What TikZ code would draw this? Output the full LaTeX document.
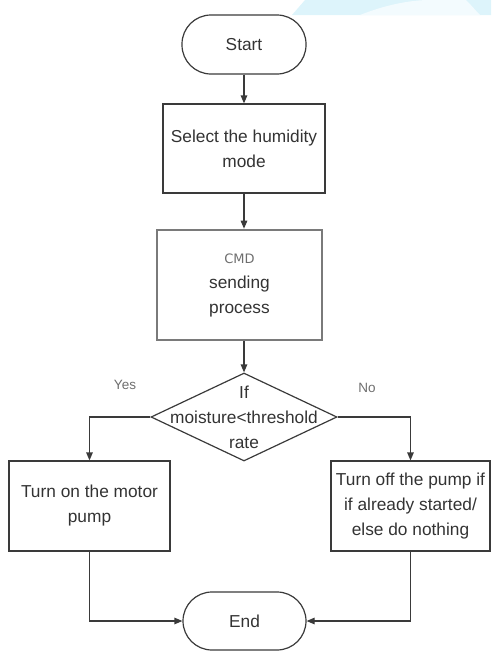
\documentclass[tikz,border=0pt]{standalone}
\usepackage{fontspec}
\setmainfont{Liberation Sans}
\newfontfamily\cmdfont{DejaVu Sans}
\usepackage{tikz}
\usetikzlibrary{arrows.meta, shapes.geometric, calc, positioning}
\definecolor{Ink}     {HTML}{333333}
\definecolor{Edge}    {HTML}{3A3A3A}
\definecolor{Frame}   {HTML}{7A7A7A}
\definecolor{Soft}    {HTML}{6E6E6E}
\definecolor{Sky}     {HTML}{DDF4FB}
\definecolor{SkyPale} {HTML}{F3FBFE}
\tikzset{
  flow arrow/.style={-{Triangle[length=8pt,width=6.5pt]}, line width=1.2pt, draw=Edge},
  flow line/.style={line width=1.2pt, draw=Edge},
}

\begin{document}
\begin{tikzpicture}[x=1pt, y=-1pt,
    font=\fontsize{17.3}{25}\selectfont, text=Ink,
    terminal/.style={draw=Edge, line width=1.2pt, rounded corners=29pt,
                     inner sep=0pt, align=center},
    process/.style={draw=Edge, line width=1.2pt, inner sep=0pt, align=center},
    cmdbox/.style={draw=Frame, line width=2.6pt, inner sep=0pt, align=center},
    decision/.style={draw=Edge, line width=1.2pt, diamond, inner sep=0pt},
    answer/.style={text=Soft, font=\fontsize{13.5}{16}\selectfont}]
  % Frame and background shading
  \useasboundingbox (0,0) rectangle (491,651);
  \fill[Sky] (292,15) -- (305,0) -- (491,0) -- (491,15) -- cycle;
  \fill[SkyPale] (360,15) .. controls (385,5) and (410,0) .. (430,0)
                 -- (466,0) .. controls (472,6) and (476,11) .. (480,15) -- cycle;
  % Nodes
  \node[terminal, minimum width=124pt, minimum height=59pt] (start) at (244,44.5) {Start};
  \node[process, minimum width=162pt, minimum height=89pt] (mode) at (244,148.5)
       {Select the humidity\\mode};
  \node[cmdbox, minimum width=165pt, minimum height=110pt] (cmd) at (239.5,285)
       {{\cmdfont\fontsize{13}{16}\selectfont\color{Soft}CMD}\\sending\\process};
  \node[decision, minimum width=186pt, minimum height=88pt,
        label={[align=center, inner sep=0pt]center:If\\moisture<threshold\\rate}]
       (check) at (244,417) {};
  \node[process, minimum width=161pt, minimum height=90pt] (pumpon) at (89.5,506)
       {Turn on the motor\\pump};
  \node[process, minimum width=159pt, minimum height=90pt] (pumpoff) at (410.5,506)
       {Turn off the pump if\\if already started/\\else do nothing};
  \node[terminal, minimum width=123pt, minimum height=58pt] (end) at (244.5,621) {End};
  % Answer labels
  \node[answer] (yes) at (125,385) {Yes};
  \node[answer] (no)  at (367,388) {No};
  % Arrows
  \draw[flow arrow] (start.south) -- (mode.north);
  \draw[flow arrow] (mode.south) -- (mode.south |- cmd.north);
  \draw[flow arrow] (check.north |- cmd.south) -- (check.north);
  \draw[flow arrow] (check.west) -| (pumpon.north);
  \draw[flow arrow] (check.east) -| (pumpoff.north);
  \draw[flow arrow] (pumpon.south) |- (end.west);
  \draw[flow arrow] (pumpoff.south) |- (end.east);
\end{tikzpicture}
\end{document}
